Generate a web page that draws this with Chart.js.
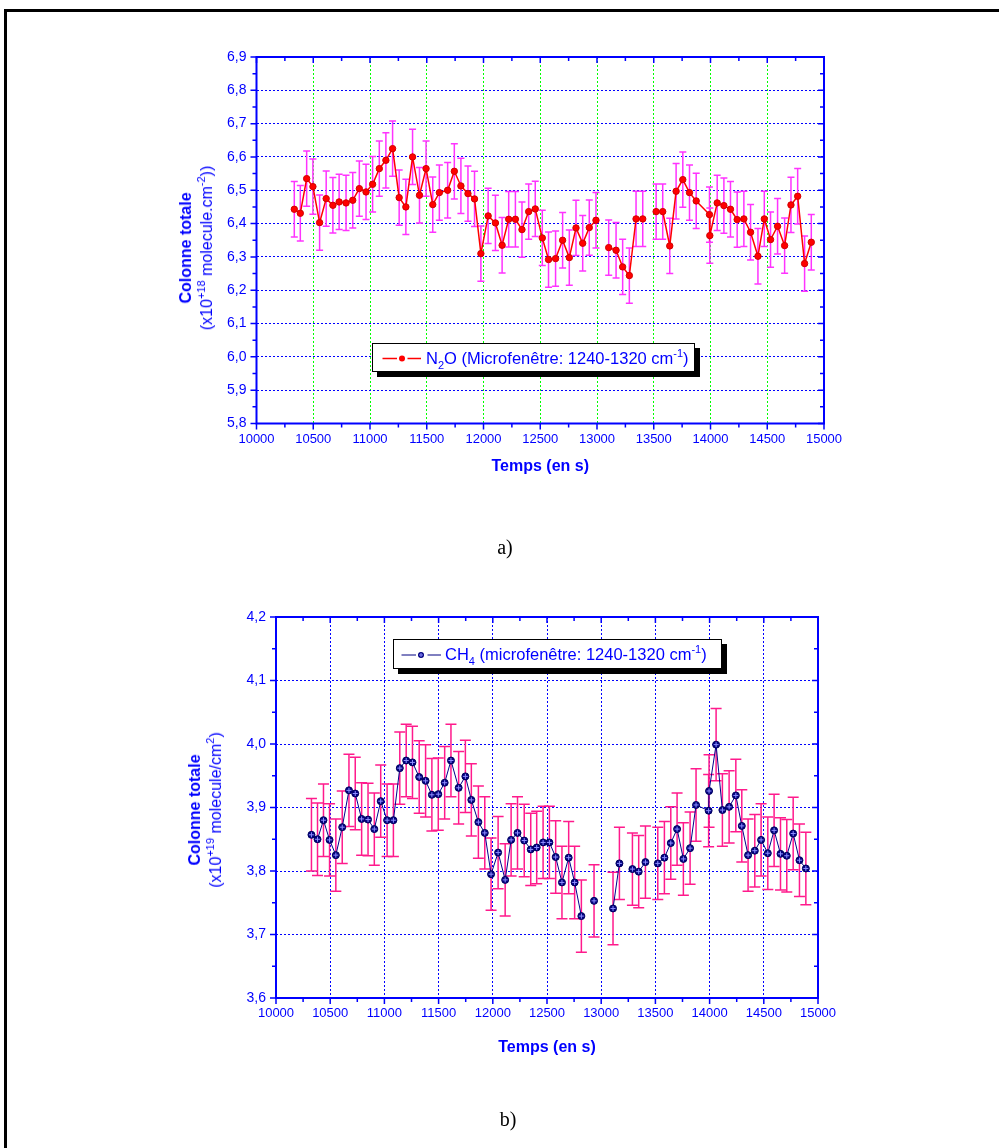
<!DOCTYPE html>
<html>
<head>
    <meta charset="utf-8">
    <title>Colonne totale N2O et CH4</title>
    <script src="https://cdn.jsdelivr.net/npm/chart.js@4.4.0/dist/chart.umd.min.js"></script>
    <style>
        body { margin: 0; background: #fff; }
        #page { position: relative; width: 999px; height: 1148px; overflow: hidden;
                font-family: "Liberation Sans", Arial, sans-serif; }
        #frame { position: absolute; left: 4px; top: 9px; width: 1100px; height: 1300px;
                 border-left: 3px solid #000; border-top: 3px solid #000; }
        canvas { position: absolute; left: 0; top: 0; }
        .ytitle { position: absolute; color: #0000ff; font-size: 16px; line-height: 21px;
                  text-align: center; white-space: nowrap;
                  transform: translate(-50%, -50%) rotate(-90deg); }
        .ytitle sup, .legend sup { font-size: 11px; line-height: 0; vertical-align: 7px; }
        .legend sub { font-size: 11px; line-height: 0; vertical-align: -5px; }
        .legend { position: absolute; box-sizing: border-box; background: #fff;
                  border: 1px solid #000; box-shadow: 5px 5px 0 #000; color: #0000ff;
                  font-size: 16.5px; white-space: nowrap; }
        .legend svg { position: absolute; left: 0; top: 0; }
        .legend span.txt { position: absolute; top: 50%; transform: translateY(-50%); line-height: 1; }
        .caption { position: absolute; font-family: "Liberation Serif", "Times New Roman", serif;
                   font-size: 20px; transform: translateX(-50%); }
    </style>
</head>
<body>
<div id="page">
    <div id="frame"></div>
    <canvas id="chartN2O" width="999" height="1148"></canvas>
    <canvas id="chartCH4" width="999" height="1148"></canvas>

    <div class="ytitle" style="left:196px; top:248px;"><b>Colonne totale</b><br>(x10<sup>+18</sup> molecule.cm<sup>-2</sup>))</div>
    <div class="ytitle" style="left:205px; top:810px;"><b>Colonne totale</b><br>(x10<sup>+19</sup> molecule/cm<sup>2</sup>)</div>

    <div class="legend" style="left:372px; top:343px; width:323px; height:29px;">
        <svg width="52" height="29">
            <line x1="9.5" y1="14.5" x2="24" y2="14.5" stroke="#ff0000" stroke-width="1.5"/>
            <circle cx="29" cy="14.5" r="3" fill="#ff0000"/>
            <line x1="34.5" y1="14.5" x2="48" y2="14.5" stroke="#ff0000" stroke-width="1.5"/>
        </svg>
        <span class="txt" style="left:53px;">N<sub>2</sub>O (Microfenêtre: 1240-1320 cm<sup>-1</sup>)</span>
    </div>
    <div class="legend" style="left:393px; top:639px; width:329px; height:30px;">
        <svg width="52" height="30">
            <line x1="7.5" y1="15" x2="22" y2="15" stroke="#000080" stroke-width="1"/>
            <circle cx="27" cy="15" r="3" fill="#000080"/>
            <line x1="25" y1="15" x2="29" y2="15" stroke="#9090ff" stroke-width="1"/>
            <line x1="27" y1="13" x2="27" y2="17" stroke="#9090ff" stroke-width="1"/>
            <line x1="33.5" y1="15" x2="47" y2="15" stroke="#000080" stroke-width="1"/>
        </svg>
        <span class="txt" style="left:51px;">CH<sub>4</sub> (microfenêtre: 1240-1320 cm<sup>-1</sup>)</span>
    </div>

    <div class="caption" style="left:505px; top:536px;">a)</div>
    <div class="caption" style="left:508px; top:1108px;">b)</div>
</div>

<script>
    // N2O total column (x1e18 molecule.cm-2), null = no measurement (line break)
    const n2oTime = [10333, 10386, 10442, 10497, 10556, 10614, 10673, 10728, 10789, 10848,
        10906, 10965, 11023, 11082, 11140, 11199, 11257, 11316, 11375, 11436,
        11494, 11553, 11611, 11684, 11743, 11801, 11863, 11921, 11977, 12041,
        12105, 12164, 12222, 12281, 12339, 12398, 12456, 12518, 12573, 12635,
        12697, 12756, 12815, 12874, 12932, 12991, 13047, 13103, 13168, 13226,
        13285, 13344, 13403, 13462, 13521, 13579, 13641, 13697, 13756, 13815,
        13874, 13991, 13994, 14059, 14118, 14176, 14235, 14294, 14353, 14418,
        14474, 14529, 14591, 14653, 14709, 14768, 14829, 14888];
    const n2oValue = [6.443, 6.431, 6.535, 6.511, 6.403, 6.475, 6.455, 6.465, 6.462, 6.470,
        6.505, 6.495, 6.518, 6.565, 6.590, 6.625, 6.478, 6.450, 6.600, 6.485,
        6.565, 6.457, 6.493, 6.500, 6.557, 6.513, 6.490, 6.474, 6.310, 6.423,
        6.402, 6.335, 6.413, 6.413, 6.382, 6.436, 6.444, 6.357, 6.292, 6.295,
        6.350, 6.298, 6.387, 6.341, 6.388, 6.410, null, 6.328, 6.320, 6.270,
        6.244, 6.414, 6.414, null, 6.436, 6.436, 6.333, 6.497, 6.532, 6.493,
        6.468, 6.427, 6.364, 6.462, 6.454, 6.443, 6.412, 6.414, 6.374, 6.302,
        6.414, 6.352, 6.392, 6.334, 6.456, 6.482, 6.280, 6.344];
    const n2oErr = 0.083;

    // CH4 total column (x1e19 molecule/cm2)
    const ch4Time = [10327, 10383, 10438, 10494, 10552, 10611, 10673, 10731, 10790, 10849,
        10907, 10966, 11025, 11083, 11142, 11201, 11259, 11321, 11380, 11438,
        11497, 11556, 11614, 11685, 11747, 11802, 11867, 11926, 11984, 12049,
        12114, 12169, 12228, 12290, 12350, 12405, 12464, 12522, 12580, 12638,
        12700, 12755, 12817, 12876, 12934, 13020, 13109, 13168, 13228, 13288,
        13346, 13408, 13465, 13522, 13583, 13642, 13700, 13758, 13820, 13875,
        13991, 13995, 14060, 14118, 14180, 14242, 14297, 14355, 14417, 14475,
        14537, 14595, 14654, 14712, 14771, 14829, 14888];
    const ch4Value = [3.857, 3.850, 3.880, 3.849, 3.825, 3.869, 3.927, 3.922, 3.882, 3.881,
        3.866, 3.910, 3.880, 3.880, 3.962, 3.974, 3.971, 3.948, 3.942, 3.920,
        3.921, 3.939, 3.974, 3.931, 3.949, 3.912, 3.877, 3.860, 3.795, 3.829,
        3.786, 3.849, 3.860, 3.848, 3.834, 3.837, 3.845, 3.845, 3.822, 3.782,
        3.821, 3.782, 3.729, null, 3.753, null, 3.741, 3.812, null, 3.803,
        3.799, 3.814, null, 3.812, 3.821, 3.844, 3.866, 3.819, 3.836, 3.904,
        3.895, 3.926, 3.999, 3.896, 3.901, 3.919, 3.871, 3.825, 3.832, 3.849,
        3.828, 3.864, 3.827, 3.824, 3.859, 3.817, 3.804];
    const ch4Err = 0.057;

    const xTicks = { min: 10000, max: 15000, major: 500, minor: 250 };

    Chart.defaults.font.family = '"Liberation Sans", Arial, sans-serif';

    // error bars under the points, blue frame with minor/major ticks on top
    const frameTicks = {
        id: 'frameTicks',
        beforeDatasetsDraw(chart) {
            const ds = chart.data.datasets[0];
            const meta = chart.getDatasetMeta(0);
            const y = chart.scales.y;
            const ctx = chart.ctx;
            ctx.save();
            ctx.strokeStyle = ds.errorColor;
            ctx.lineWidth = 1.5;
            ds.data.forEach((p, i) => {
                if (p.y === null) return;
                const px = meta.data[i].x;
                const top = y.getPixelForValue(p.y + ds.errorBar);
                const bot = y.getPixelForValue(p.y - ds.errorBar);
                ctx.beginPath();
                ctx.moveTo(px, top); ctx.lineTo(px, bot);
                ctx.moveTo(px - ds.capHalf, top); ctx.lineTo(px + ds.capHalf, top);
                ctx.moveTo(px - ds.capHalf, bot); ctx.lineTo(px + ds.capHalf, bot);
                ctx.stroke();
            });
            ctx.restore();
        },
        afterDatasetsDraw(chart) {
            const ds = chart.data.datasets[0];
            if (!ds.crossColor) return;
            const meta = chart.getDatasetMeta(0);
            const ctx = chart.ctx;
            ctx.save();
            ctx.strokeStyle = ds.crossColor;
            ctx.lineWidth = 1;
            ds.data.forEach((p, i) => {
                if (p.y === null) return;
                const el = meta.data[i];
                ctx.beginPath();
                ctx.moveTo(el.x - 2.5, el.y); ctx.lineTo(el.x + 2.5, el.y);
                ctx.moveTo(el.x, el.y - 2.5); ctx.lineTo(el.x, el.y + 2.5);
                ctx.stroke();
            });
            ctx.restore();
        },
        afterDraw(chart, args, opts) {
            const { ctx, chartArea: a, scales: { x, y } } = chart;
            ctx.save();
            ctx.strokeStyle = '#0000ff';
            ctx.lineWidth = 1.5;
            ctx.beginPath();
            const nx = Math.round((x.max - x.min) / xTicks.minor);
            for (let k = 0; k <= nx; k++) {
                const px = x.getPixelForValue(x.min + k * xTicks.minor);
                const len = k % 2 === 0 ? 6 : 4;
                ctx.moveTo(px, a.bottom); ctx.lineTo(px, a.bottom + len);
                ctx.moveTo(px, a.top); ctx.lineTo(px, a.top + len);
            }
            const ny = Math.round((y.max - y.min) / opts.yMinor);
            for (let k = 0; k <= ny; k++) {
                const py = y.getPixelForValue(y.min + k * opts.yMinor);
                const len = k % 2 === 0 ? 6 : 4;
                ctx.moveTo(a.left - len, py); ctx.lineTo(a.left, py);
                ctx.moveTo(a.right - len, py); ctx.lineTo(a.right, py);
            }
            ctx.stroke();
            ctx.lineWidth = 2;
            ctx.strokeRect(a.left, a.top, a.right - a.left, a.bottom - a.top);
            ctx.restore();
        }
    };

    function makeChart(id, cfg) {
        return new Chart(document.getElementById(id), {
            type: 'line',
            data: {
                datasets: [{
                    data: cfg.time.map((t, i) => ({ x: t, y: cfg.value[i] })),
                    borderColor: cfg.lineColor,
                    borderWidth: cfg.lineWidth,
                    pointRadius: cfg.pointRadius,
                    pointBackgroundColor: cfg.pointColor,
                    pointBorderColor: cfg.pointBorder,
                    pointBorderWidth: 1,
                    spanGaps: false,
                    tension: 0,
                    errorBar: cfg.err,
                    errorColor: cfg.errColor,
                    capHalf: cfg.capHalf,
                    crossColor: cfg.crossColor
                }]
            },
            options: {
                responsive: false,
                animation: false,
                devicePixelRatio: 1,
                layout: { padding: cfg.padding },
                plugins: {
                    legend: { display: false },
                    tooltip: { enabled: false },
                    frameTicks: { yMinor: 0.05 }
                },
                scales: {
                    x: {
                        type: 'linear',
                        min: xTicks.min,
                        max: xTicks.max,
                        afterFit: s => { s.height = cfg.xHeight; },
                        ticks: {
                            stepSize: xTicks.major,
                            color: '#0000ff',
                            font: { size: 13 },
                            padding: 8,
                            maxRotation: 0,
                            autoSkip: false,
                            callback: v => String(v)
                        },
                        grid: { color: cfg.vGrid, drawTicks: false, lineWidth: 1 },
                        border: { display: false, dash: [2, 2] },
                        title: {
                            display: true,
                            text: 'Temps (en s)',
                            color: '#0000ff',
                            font: { size: 16, weight: 'bold' },
                            padding: { top: 0, bottom: 4 }
                        }
                    },
                    y: {
                        min: cfg.yMin,
                        max: cfg.yMax,
                        afterFit: s => { s.width = 45; },
                        ticks: {
                            stepSize: 0.1,
                            color: '#0000ff',
                            font: { size: 14 },
                            padding: 10,
                            callback: v => v.toFixed(1).replace('.', ',')
                        },
                        grid: { color: '#0000ff', drawTicks: false, lineWidth: 1 },
                        border: { display: false, dash: [2, 2] }
                    }
                }
            },
            plugins: [frameTicks]
        });
    }

    makeChart('chartN2O', {
        time: n2oTime, value: n2oValue, err: n2oErr,
        yMin: 5.8, yMax: 6.9,
        lineColor: '#ff0000', lineWidth: 1.5,
        pointRadius: 3.2, pointColor: '#ff0000', pointBorder: '#d00000',
        errColor: '#ff33ff', capHalf: 3.5,
        vGrid: '#00ff00',
        padding: { left: 211.5, right: 175, top: 57, bottom: 667.5 },
        xHeight: 57
    });

    makeChart('chartCH4', {
        time: ch4Time, value: ch4Value, err: ch4Err,
        yMin: 3.6, yMax: 4.2,
        lineColor: '#00008b', lineWidth: 1,
        pointRadius: 3.5, pointColor: '#000080', pointBorder: '#000060',
        errColor: '#ff1a8c', capHalf: 5.5,
        crossColor: '#9090ff',
        vGrid: '#0000ff',
        padding: { left: 231, right: 181, top: 617, bottom: 87 },
        xHeight: 63
    });
</script>
</body>
</html>
